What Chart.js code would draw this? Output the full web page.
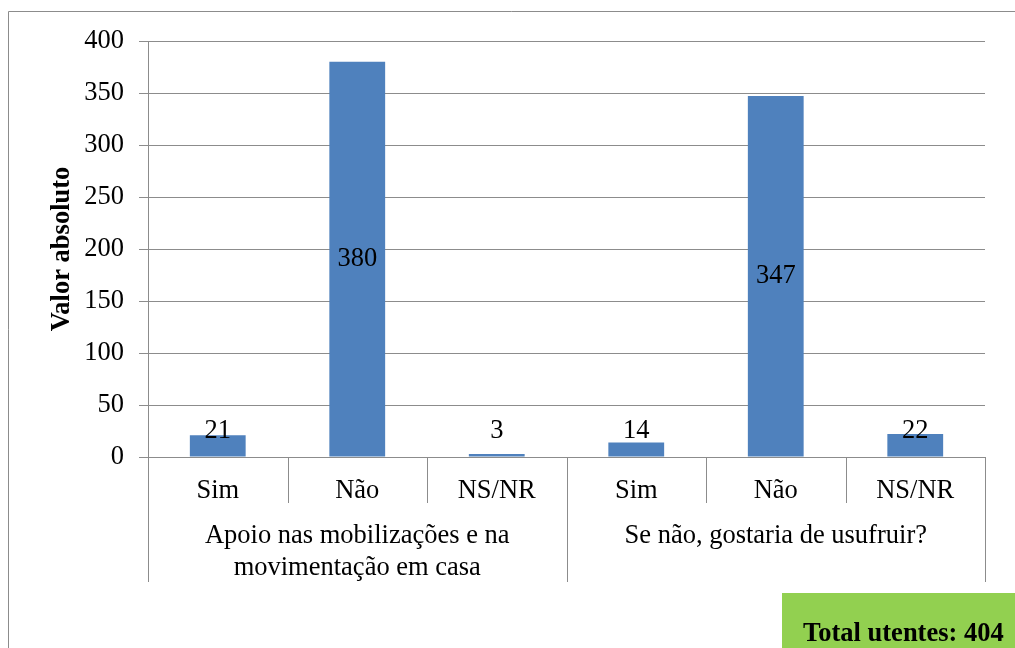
<!DOCTYPE html>
<html>
<head>
<meta charset="utf-8">
<script src="https://cdn.jsdelivr.net/npm/chart.js@4/dist/chart.umd.min.js"></script>
<style>
    html, body { margin: 0; padding: 0; background: #fff; }
    #wrap { width: 1015px; height: 648px; position: relative; }
</style>
</head>
<body>
<div id="wrap"><canvas id="barChart" width="1015" height="648"></canvas></div>
<script>
const categories = ['Sim', 'Não', 'NS/NR', 'Sim', 'Não', 'NS/NR'];
const values = [21, 380, 3, 14, 347, 22];
const groups = [['Apoio nas mobilizações e na', 'movimentação em casa'], ['Se não, gostaria de usufruir?']];
const groupSize = 3;
const yTicks = [0, 50, 100, 150, 200, 250, 300, 350, 400];
const totalText = 'Total utentes: 404';

const FONT = '"Liberation Serif", "Times New Roman", serif';
const SIZE = 26.5;
const GRID = '#8c8c8c';

// frame, group labels, separators, data labels, total box
const decorations = {
    id: 'decorations',
    beforeDraw(chart) {
        const ctx = chart.ctx;
        ctx.save();
        ctx.strokeStyle = GRID;
        ctx.lineWidth = 1;
        ctx.beginPath();
        ctx.moveTo(8.5, 648);
        ctx.lineTo(8.5, 11.5);
        ctx.lineTo(1015, 11.5);
        ctx.stroke();
        ctx.restore();
    },
    afterDraw(chart) {
        const ctx = chart.ctx;
        const x = chart.scales.x;
        const y = chart.scales.y;
        const base = y.getPixelForValue(0);
        const step = x.getPixelForValue(1) - x.getPixelForValue(0);

        ctx.save();
        ctx.strokeStyle = GRID;
        ctx.lineWidth = 1;
        for (let i = 0; i <= categories.length; i++) {
            const px = Math.round(x.getPixelForValue(i) - step / 2) + 0.5;
            const isGroupEdge = i % groupSize === 0;
            ctx.beginPath();
            ctx.moveTo(px, base);
            ctx.lineTo(px, isGroupEdge ? 582 : 503);
            ctx.stroke();
        }

        ctx.fillStyle = '#000';
        ctx.font = SIZE + 'px ' + FONT;
        ctx.textAlign = 'center';
        ctx.textBaseline = 'middle';
        groups.forEach((lines, g) => {
            const cx = (x.getPixelForValue(g * groupSize) + x.getPixelForValue(g * groupSize + groupSize - 1)) / 2;
            lines.forEach((line, k) => ctx.fillText(line, cx, 536 + k * 32));
        });

        const meta = chart.getDatasetMeta(0);
        meta.data.forEach((bar, i) => {
            const mid = (bar.y + bar.base) / 2;
            ctx.fillText(String(values[i]), bar.x, Math.min(mid, bar.base - 25));
        });

        ctx.fillStyle = '#92d050';
        ctx.fillRect(782, 593, 233, 55);
        ctx.fillStyle = '#000';
        ctx.font = 'bold ' + SIZE + 'px ' + FONT;
        ctx.textAlign = 'left';
        ctx.fillText(totalText, 803, 634);
        ctx.restore();
    }
};

function initChart() {
    const ctx = document.getElementById('barChart').getContext('2d');
    return new Chart(ctx, {
        type: 'bar',
        data: {
            labels: categories,
            datasets: [{
                data: values,
                backgroundColor: '#4f81bd',
                borderColor: '#4f81bd',
                borderWidth: 0,
                categoryPercentage: 1,
                barPercentage: 0.4
            }]
        },
        options: {
            responsive: false,
            animation: false,
            events: [],
            layout: { padding: { left: 42, top: 41, right: 30, bottom: 0 } },
            plugins: {
                legend: { display: false },
                tooltip: { enabled: false }
            },
            scales: {
                x: {
                    afterFit: (scale) => { scale.height = 191; },
                    grid: { display: false },
                    border: { display: false },
                    ticks: {
                        color: '#000',
                        font: { family: FONT, size: SIZE },
                        padding: 10,
                        maxRotation: 0,
                        autoSkip: false
                    }
                },
                y: {
                    min: 0,
                    max: 400,
                    afterFit: (scale) => { scale.width = 106; },
                    afterBuildTicks: (scale) => { scale.ticks = yTicks.map(v => ({ value: v })); },
                    grid: { color: GRID, tickLength: 9 },
                    border: { color: GRID },
                    ticks: {
                        color: '#000',
                        font: { family: FONT, size: SIZE },
                        padding: 15
                    },
                    title: {
                        display: true,
                        text: 'Valor absoluto',
                        color: '#000',
                        font: { family: FONT, size: SIZE, weight: 'bold' }
                    }
                }
            }
        },
        plugins: [decorations]
    });
}

document.addEventListener('DOMContentLoaded', initChart);
</script>
</body>
</html>
